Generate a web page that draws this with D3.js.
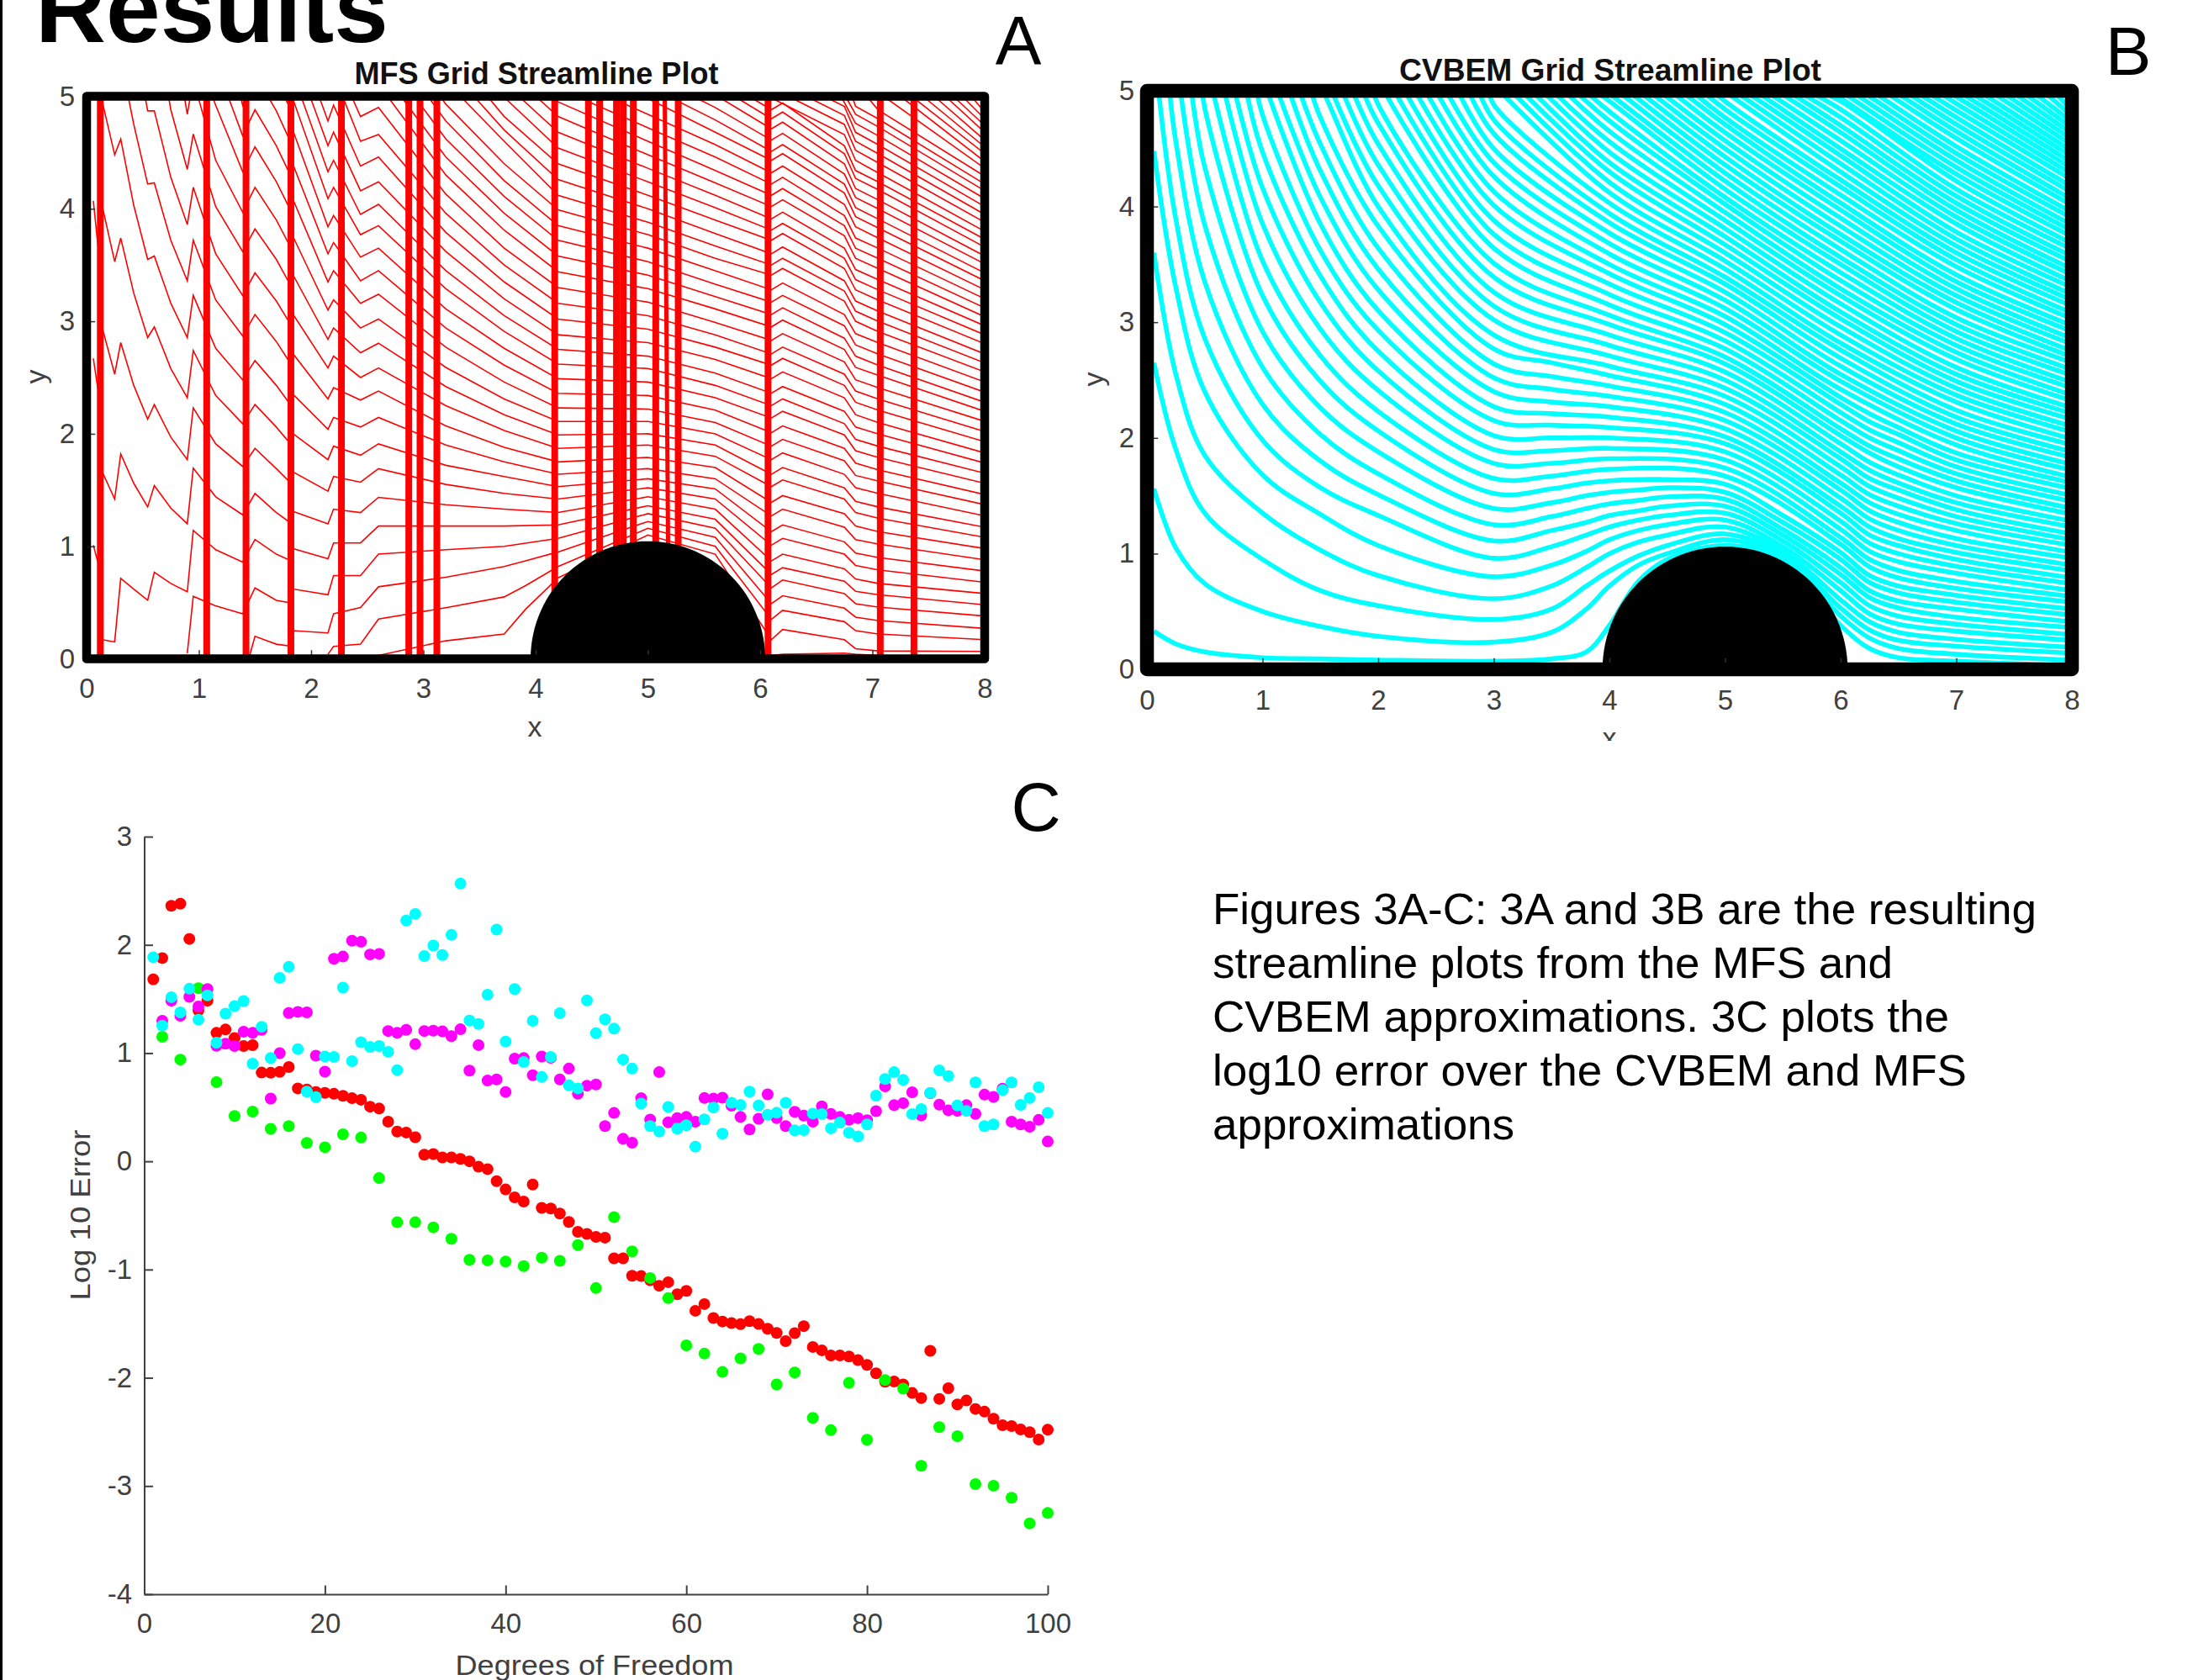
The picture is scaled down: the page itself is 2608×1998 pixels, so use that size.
<!DOCTYPE html>
<html><head><meta charset="utf-8">
<script src="https://cdn.jsdelivr.net/npm/d3@7"></script>
<style>html,body{margin:0;padding:0;background:#fff}svg{display:block}text{font-family:"Liberation Sans",Arial,sans-serif}</style>
</head><body><div id="c"></div>
<script>
// ---------- Panel C: log10 error per degree of freedom ----------
const redValues=[1.681,1.878,2.361,2.38,2.055,1.395,1.484,1.187,1.218,1.14,1.065,1.073,.82,.818,.827,.871,.674,.663,.64,.632,.624,.605,.583,.569,.505,.488,.366,.275,.266,.222,.061,.067,.036,.036,.022,0,-.05,-.072,-.183,-.26,-.333,-.372,-.214,-.43,-.436,-.483,-.56,-.652,-.671,-.699,-.705,-.896,-.896,-1.057,-1.06,-1.098,-1.15,-1.117,-1.228,-1.197,-1.381,-1.319,-1.448,-1.48,-1.495,-1.505,-1.477,-1.503,-1.547,-1.586,-1.661,-1.588,-1.523,-1.715,-1.746,-1.793,-1.793,-1.803,-1.837,-1.881,-1.959,-2.036,-2.034,-2.062,-2.14,-2.187,-1.751,-2.195,-2.096,-2.246,-2.21,-2.288,-2.313,-2.378,-2.438,-2.446,-2.477,-2.503,-2.57,-2.48];
const greenValues=[1.151,.94,1.6,.732,.419,.46,.3,.325,.17,.13,.25,.22,-.155,-.563,-.563,-.61,-.716,-.91,-.915,-.926,-.968,-.89,-.92,-.774,-1.171,-.516,-.832,-1.078,-1.264,-1.7,-1.777,-1.946,-1.821,-1.733,-2.062,-1.951,-2.37,-2.484,-2.047,-2.573,-2.021,-2.1,-2.813,-2.456,-2.539,-2.982,-2.997,-3.109,-3.345,-3.249];
const magentaValues=[1.298,1.484,1.345,1.52,1.431,1.592,1.068,1.087,1.065,1.198,1.187,1.215,.58,.999,1.37,1.381,1.376,.976,.829,1.872,1.892,2.039,2.028,1.911,1.917,1.204,1.187,1.215,1.082,1.204,1.207,1.201,1.157,1.22,.838,1.074,.746,.757,.641,.949,.954,.796,.968,.957,.757,.857,.624,.699,.71,.325,.447,.208,.172,.583,.386,.824,.36,.399,.41,.366,.585,.58,.588,.513,.41,.294,.394,.619,.399,.325,.458,.422,.366,.508,.438,.41,.383,.399,.38,.463,.693,.519,.538,.638,.424,.63,.524,.472,.466,.519,.438,.616,.596,.671,.366,.341,.319,.383,.183];
const cyanValues=[1.886,1.254,1.517,1.376,1.595,1.309,1.534,1.096,1.365,1.434,1.481,.902,1.243,.954,1.695,1.797,1.037,.644,.594,.968,.965,1.606,.926,1.101,1.057,1.065,1.012,.843,2.225,2.286,1.897,1.994,1.906,2.092,2.566,1.301,1.27,1.54,2.141,1.107,1.592,.918,1.298,.779,.965,1.368,.702,.674,1.487,1.184,1.312,1.226,.94,.857,.533,.325,.275,.502,.302,.333,.136,.388,.497,.255,.541,.521,.644,.516,.43,.449,.541,.286,.288,.441,.436,.305,.358,.264,.23,.341,.607,.76,.824,.752,.436,.483,.632,.84,.788,.516,.466,.73,.325,.341,.657,.73,.521,.585,.685,.447];
const errXTicks=[0,20,40,60,80,100], errYTicks=[-4,-3,-2,-1,0,1,2,3];

// ---------- Panel B: CVBEM streamlines, crossing heights read at vertical slices (index = line, bottom up) ----------
const bAt006=[.33,1.56,2.65,3.6,4.48];
const bAt025=[.22,1.05,1.9,2.55,3.3,3.89,4.56];
const bAt05=[.15,.74,1.35,1.85,2.4,2.86,3.35,3.84,4.34,4.85];
const bAt1=[.1,.5,.95,1.35,1.68,1.98,2.29,2.61,2.92,3.23,3.53,3.85,4.16,4.47,4.79];
const bAt15=[.09,.37,.68,1.03,1.34,1.57,1.8,2.03,2.26,2.49,2.71,2.94,3.17,3.4,3.62,3.85,4.08,4.31,4.54,4.77,4.98];
const bAt2=[.08,.285,.55,.81,1.07,1.33,1.51,1.69,1.88,2.06,2.23,2.41,2.58,2.75,2.93,3.1,3.28,3.46,3.64,3.83,4,4.18,4.36,4.54,4.72,4.88];
const bAt3=[.07,.235,.43,.61,.8,.96,1.11,1.25,1.39,1.52,1.65,1.78,1.9,2.02,2.15,2.27,2.4,2.52,2.64,2.77,2.89,3.02,3.14,3.26,3.39,3.51,3.64,3.76,3.88,4.01,4.13,4.26,4.38,4.5,4.63,4.75,4.88];
const bAt35=[.09,.32,.52,.72,.9,1.06,1.2,1.32,1.44,1.56,1.67,1.78,1.89,2,2.11,2.21,2.31,2.42,2.53,2.65];
const bAt38=[.15,.52,.72,.88,1.02,1.16,1.27,1.39,1.5,1.61];
const bAt4=[.38,.72,.85,1,1.12,1.23,1.33,1.43,1.53,1.63,1.73,1.82,1.91,2,2.09,2.18,2.27,2.36,2.45,2.54,2.62,2.71,2.8,2.89,2.98,3.06,3.15,3.24,3.33,3.42,3.5,3.59,3.68,3.77,3.86,3.94,4.03,4.12,4.21,4.3,4.38,4.47,4.56,4.65,4.74,4.82,4.91];
const bAt425=[.76,.9,.98,1.1,1.2,1.29,1.37,1.46,1.55,1.64];
const bAt45=[.95,1,1.07,1.16,1.25,1.33,1.41,1.49,1.57,1.64];
const bAt5=[1.07,1.12,1.17,1.23,1.29,1.35,1.41,1.47,1.53,1.6,1.67,1.74,1.81,1.88,1.95,2.01,2.08,2.15,2.22,2.29,2.36,2.43,2.5,2.57,2.64,2.7,2.77,2.84,2.91,2.98,3.05,3.12,3.19,3.26,3.33,3.39,3.46,3.53,3.6,3.67,3.74,3.81,3.88,3.95,4.02,4.08,4.15,4.22,4.29,4.36,4.43,4.5,4.57,4.64,4.71,4.77,4.84,4.91];
const bAt55=[.94,.96,.99,1.02,1.06,1.11,1.16,1.21,1.27,1.33];
const bAt6=[.38,.46,.53,.6,.68,.75,.82,.88,.95,1.01,1.08,1.14,1.21,1.28,1.35,1.41,1.48,1.55,1.61,1.68,1.75,1.82,1.88,1.95,2.02,2.08,2.15,2.22,2.29,2.35,2.42,2.49,2.55,2.62,2.69,2.76,2.82,2.89,2.96,3.03,3.09,3.16,3.23,3.29,3.36,3.43,3.5,3.56,3.63,3.7,3.76,3.83,3.9,3.97,4.03,4.1,4.17,4.23,4.3,4.37,4.44,4.5,4.57,4.64,4.7,4.77,4.84,4.91];
const bAt625=[.18,.27,.34,.41,.48,.55,.62,.68,.75,.81,.885,.95,1.02,1.09,1.16,1.23,1.3,1.37,1.44,1.51,1.58,1.65,1.72,1.79,1.87,1.93,2,2.07,2.14,2.21];
const bAt65=[.1,.18,.25,.32,.39,.46,.53,.59,.66,.72,.79,.854,.93,1,1.07,1.13,1.2,1.27,1.34,1.41,1.48,1.55,1.61,1.68,1.75,1.82,1.89,1.96,2.03,2.09];
const bAt7=[.07,.13,.2,.26,.33,.39,.45,.52,.58,.64,.7,.76,.83,.89,.95,1.01,1.07,1.13,1.2,1.26,1.32,1.38,1.44,1.5,1.57,1.63,1.69,1.75,1.81,1.87,1.94,2,2.06,2.12,2.18,2.24,2.31,2.37,2.43,2.49,2.55,2.61,2.68,2.74,2.8,2.86,2.92,2.98,3.04,3.11,3.17,3.23,3.29,3.35,3.41,3.48,3.54,3.6,3.66,3.72,3.78,3.85,3.91,3.97,4.03,4.09,4.15,4.22,4.28,4.34,4.4,4.46,4.52,4.59,4.65,4.71,4.77,4.83,4.89];
const bAt8=[.03,.08,.14,.19,.25,.3,.36,.41,.47,.52,.58,.63,.68,.74,.79,.85,.9,.96,1.01,1.07,1.12,1.17,1.23,1.28,1.34,1.39,1.45,1.5,1.56,1.61,1.66,1.72,1.77,1.83,1.88,1.94,1.99,2.05,2.1,2.16,2.21,2.26,2.32,2.37,2.43,2.48,2.54,2.59,2.65,2.7,2.75,2.81,2.86,2.92,2.97,3.03,3.08,3.14,3.19,3.24,3.3,3.35,3.41,3.46,3.52,3.57,3.63,3.68,3.74,3.79,3.84,3.9,3.95,4.01,4.06,4.12,4.17,4.23,4.28,4.33,4.38,4.43,4.48,4.53,4.58,4.63,4.68,4.73,4.78,4.83,4.88];
// where lines 6..91 leave through the top edge
const bTopX=[.1,.195,.29,.385,.48,.57,.67,.76,.86,.95,1.04,1.13,1.23,1.32,1.42,1.51,1.6,1.69,1.78,1.87,1.96,2.05,2.14,2.23,2.32,2.41,2.5,2.59,2.69,2.78,2.87,2.96,3.05,3.15,3.24,3.33,3.42,3.51,3.61,3.7,3.79,3.88,3.97,4.07,4.16,4.25,4.34,4.43,4.53,4.62,4.71,4.8,4.89,4.99,5.08,5.17,5.26,5.35,5.45,5.54,5.63,5.72,5.81,5.91,6,6.09,6.18,6.27,6.37,6.46,6.55,6.64,6.73,6.83,6.92,7.01,7.1,7.19,7.29,7.38,7.47,7.56,7.65,7.75,7.84,7.93];
const bSlices=[[.06,bAt006],[.25,bAt025],[.5,bAt05],[1,bAt1],[1.5,bAt15],[2,bAt2],[3,bAt3],[3.5,bAt35],[3.8,bAt38],[4,bAt4],[4.25,bAt425],[4.5,bAt45],[5,bAt5],[5.5,bAt55],[6,bAt6],[6.25,bAt625],[6.5,bAt65],[7,bAt7],[8,bAt8]];

// ---------- Panel A: MFS streamlines, same scheme (null = line not present at that slice) ----------
const n=null;
const aAt006=[n,n,n,n,n,n,1.01,2.67,4.07];
const aAt010=[n,n,n,n,n,n,.86,2.4,3.68];
const aAt014=[n,n,n,n,n,.17,1.66,2.94,4.02,4.95];
const aAt025=[n,n,n,n,n,.15,1.42,2.53,3.53,4.48];
const aAt0304=[n,n,n,n,n,.715,1.82,2.81,3.74,4.62];
const aAt042=[n,n,n,n,n,.62,1.56,2.43,3.25,4.03,4.75];
const aAt0544=[n,n,n,n,n,.52,1.35,2.13,2.855,3.55,4.22,4.87];
const aAt0603=[n,n,n,n,n,.77,1.54,2.26,2.95,3.58,4.23,4.87];
const aAt075=[n,n,n,n,n,.67,1.34,1.97,2.58,3.16,3.72,4.28,4.88];
const aAt0897=[n,n,n,n,.05,.596,1.2,1.77,2.32,2.855,3.36,3.86,4.35,4.84];
const aAt095=[n,n,n,n,.555,1.14,1.695,2.23,2.74,3.23,3.72,4.19,4.664,5.15];
const aAt115=[n,n,n,n,.47,.97,1.44,1.91,2.34,2.76,3.19,3.6,4.02,4.43,4.92];
const aAt139=[n,n,n,n,.4,.86,1.28,1.71,2.09,2.48,2.87,3.23,3.62,3.97,4.33,4.65,4.92];
const aAt145=[n,n,n,.02];
const aAt15=[n,n,n,.2,.63,1.06,1.47,1.87,2.26,2.65,3.06,3.43,3.82,4.19,4.55,4.88,5.2];
const aAt169=[n,n,n,.13,.52,.93,1.3,1.69,2.06,2.43,2.82,3.18,3.55,3.9,4.24,4.56,4.87];
const aAt18=[n,n,n,.115,.5,.88,1.22,1.58,1.93,2.28,2.65,3,3.35,3.69,4.02,4.33,4.63,4.92];
const aAt184=[n,n,n,.25,.62,.98,1.31,1.66,2,2.35,2.71,3.06,3.41,3.75,4.08,4.39,4.69,4.97];
const aAt215=[n,n,.04,.23,.57,.89,1.2,1.49,1.77,2.04,2.31,2.585,2.84,3.1,3.35,3.6,3.84,4.09,4.33,4.56,4.78];
const aAt22=[n,n,.11,.4,.74,1.03,1.33,1.62,1.89,2.145,2.41,2.69,2.94,3.19,3.45,3.7,3.94,4.19,4.43,4.68,4.92];
const aAt244=[n,n,.13,.455,.74,1.03,1.3,1.57,1.81,2.06,2.3,2.5,2.72,2.94,3.16,3.36,3.57,3.77,3.95,4.16,4.38,4.6,4.82];
const aAt26=[n,.03,.353,.64,.93,1.18,1.435,1.69,1.91,2.145,2.38,2.585,2.805,3.02,3.24,3.45,3.65,3.85,4.04,4.24,4.46,4.66,4.9];
const aAt32=[n,.16,.454,.725,.97,1.18,1.37,1.55,1.72,1.9,2.07,2.25,2.42,2.59,2.77,2.94,3.11,3.29,3.45,3.62,3.79,3.96,4.13,4.3,4.46,4.62,4.78,4.93];
const aAt372=[n,.22,.55,.82,1,1.18,1.33,1.47,1.62,1.75,1.88,2.03,2.17,2.31,2.46,2.61,2.76,2.91,3.05,3.2,3.35,3.5,3.65,3.81,3.96,4.11,4.25,4.4,4.6,4.7,4.82];
const aAt391=[n,.44,.65,.87];
const aAt42=[n,.72,.82,.95,1.07,1.19,1.3,1.42,1.53,1.64,1.75,1.87,1.99,2.11,2.23,2.36,2.49,2.62,2.75,2.88,3.02,3.16,3.3,3.44,3.58,3.72,3.85,3.99,4.12,4.26,4.4,4.54,4.68,4.82,4.95];
const aAt5=[n,1.1,1.16,1.22,1.29,1.36,1.44,1.52,1.6,1.69,1.79,1.9,2,2.11,2.22,2.34,2.46,2.58,2.69,2.81,2.93,3.05,3.17,3.29,3.41,3.53,3.65,3.77,3.88,4,4.12,4.24,4.36,4.48,4.6,4.72,4.84];
const aAt56=[n,.93,1,1.08,1.16,1.24,1.33,1.42,1.51,1.6,1.7,1.8,1.9,2,2.1,2.21,2.32,2.43,2.54,2.66,2.77,2.88,2.99,3.11,3.22,3.33,3.45,3.56,3.67,3.78,3.9,4.01,4.12,4.23,4.34,4.46,4.57,4.68,4.79,4.9];
const aAt61=[.03,.17,.35,.49,.63,.75,.87,1.01,1.13,1.27,1.39,1.53,1.64,1.77,1.89,2.01,2.14,2.25,2.36,2.49,2.61,2.71,2.83,2.95,3.06,3.17,3.28,3.41,3.5,3.6,3.72,3.81,3.91,4.02,4.12,4.22,4.32,4.43,4.51,4.61,4.71,4.8,4.88];
const aAt62=[.04,.26,.43,.56,.7,.81,.93,1.07,1.19,1.33,1.45,1.59,1.7,1.83,1.95,2.07,2.2,2.31,2.42,2.55,2.67,2.77,2.89,3.01,3.12,3.23,3.34,3.47,3.56,3.66,3.78,3.87,3.97,4.08,4.18,4.28,4.38,4.49,4.57,4.67,4.77,4.86,4.94];
const aAt675=[.05,.17,.33,.45,.58,.69,.8,.93,1.04,1.17,1.29,1.42,1.52,1.64,1.76,1.87,1.99,2.09,2.2,2.32,2.43,2.53,2.64,2.75,2.85,2.96,3.06,3.18,3.27,3.36,3.47,3.56,3.65,3.76,3.85,3.94,4.04,4.14,4.22,4.31,4.4,4.49,4.56,4.66,4.75,4.83,4.91];
const aAt685=[.04,.09,.25,.37,.49,.6,.71,.83,.94,1.06,1.18,1.3,1.4,1.52,1.63,1.74,1.85,1.95,2.06,2.17,2.28,2.38,2.48,2.59,2.69,2.79,2.89,3,3.09,3.18,3.28,3.37,3.46,3.56,3.65,3.74,3.84,3.93,4.01,4.1,4.18,4.27,4.34,4.43,4.52,4.6,4.68,4.76,4.84,4.91];
const aAt705=[.03,.07,.22,.34,.46,.57,.67,.79,.9,1.02,1.13,1.25,1.35,1.47,1.58,1.68,1.79,1.89,2,2.1,2.21,2.31,2.41,2.52,2.61,2.71,2.81,2.91,3,3.09,3.19,3.28,3.37,3.47,3.56,3.65,3.74,3.83,3.91,4,4.08,4.17,4.24,4.32,4.41,4.49,4.57,4.65,4.73,4.8,4.88];
const aAt8=[.02,.065,.17,.27,.38,.48,.58,.68,.78,.88,.98,1.08,1.17,1.27,1.37,1.46,1.56,1.65,1.74,1.83,1.93,2.02,2.11,2.2,2.28,2.37,2.46,2.55,2.63,2.71,2.8,2.88,2.96,3.04,3.12,3.2,3.28,3.36,3.43,3.51,3.58,3.66,3.73,3.8,3.88,3.95,4.02,4.09,4.16,4.22,4.29,4.36,4.42,4.49,4.55,4.61,4.68,4.74,4.8,4.86,4.92];
// where lines 11..61 leave through the top edge
const aTopX=[.37,.52,.73,.87,1.12,1.26,1.37,1.76,1.91,1.99,2.07,2.28,2.36,2.68,2.8,2.92,3.04,3.15,3.33,3.45,3.57,3.71,3.85,4,4.15,4.36,4.64,4.96,5.18,5.4,5.62,5.77,5.9,6.07,6.25,6.41,6.57,6.72,6.76,6.82,6.95,7.1,7.25,7.35,7.45,7.55,7.65,7.72,7.8,7.88,7.95];
const aSlices=[[.06,aAt006],[.1,aAt010],[.14,aAt014],[.25,aAt025],[.304,aAt0304],[.42,aAt042],[.544,aAt0544],[.603,aAt0603],[.75,aAt075],[.897,aAt0897],[.95,aAt095],[1.15,aAt115],[1.39,aAt139],[1.45,aAt145],[1.5,aAt15],[1.69,aAt169],[1.8,aAt18],[1.84,aAt184],[2.15,aAt215],[2.2,aAt22],[2.44,aAt244],[2.6,aAt26],[3.2,aAt32],[3.72,aAt372],[3.91,aAt391],[4.2,aAt42],[5,aAt5],[5.6,aAt56],[6.1,aAt61],[6.2,aAt62],[6.75,aAt675],[6.85,aAt685],[7.05,aAt705],[8,aAt8]];
const aThick=[.122,1.07,1.42,1.82,2.27,2.87,2.97,3.12,4.17,4.47,4.57,4.72,4.78,4.87,5.07,5.27,6.07,7.07,7.37];
const aSlant=[[5.15,5],[5.18,1]];

const gridXTicks=[0,1,2,3,4,5,6,7,8], gridYTicks=[0,1,2,3,4,5];
const caption=["Figures 3A-C: 3A and 3B are the resulting","streamline plots from the MFS and","CVBEM approximations. 3C plots the","log10 error over the CVBEM and MFS","approximations"];
const captionWidths=[980,809,876,897,359];
const INK="#404040";
const TICK_FONT=33;

const svg=d3.select("#c").append("svg").attr("width",2608).attr("height",1998).attr("viewBox","0 0 2608 1998");
svg.append("rect").attr("width",2608).attr("height",1998).attr("fill","#fff");
svg.append("rect").attr("x",0).attr("y",0).attr("width",3).attr("height",1998).attr("fill","#000");
svg.append("text").attr("x",42).attr("y",50).attr("font-size",115).attr("font-weight","bold").attr("fill","#000").attr("textLength",420).attr("lengthAdjust","spacingAndGlyphs").text("Results");

function buildLines(slices,topX,firstTop){
  const count=d3.max(slices,s=>s[1].length);
  const lines=[];
  for(let k=0;k<Math.max(count,firstTop+topX.length);k++){
    const pts=[];
    slices.forEach(([x,col])=>{const v=col[k]; if(v!==undefined&&v!==null) pts.push([x,v]);});
    if(k>=firstTop&&k-firstTop<topX.length) pts.push([topX[k-firstTop],5]);
    pts.sort((a,b)=>a[0]-b[0]);
    if(pts.length>1) lines.push(pts);
  }
  return lines;
}

function gridPanel(o){
  const x=d3.scaleLinear().domain([0,8]).range(o.xr), y=d3.scaleLinear().domain([0,5]).range(o.yr);
  const id="clip"+o.id;
  svg.append("clipPath").attr("id",id).append("rect").attr("x",o.xr[0]).attr("y",o.yr[1]).attr("width",o.xr[1]-o.xr[0]).attr("height",o.yr[0]-o.yr[1]);
  const g=svg.append("g");
  const plot=g.append("g").attr("clip-path",`url(#${id})`);
  const line=d3.line().x(d=>x(d[0])).y(d=>y(d[1])).curve(o.curve);
  plot.selectAll("path.s").data(buildLines(o.slices,o.topX,o.firstTop)).join("path").attr("class","s").attr("d",line).attr("fill","none").attr("stroke",o.color).attr("stroke-width",o.lw);
  if(o.thick){
    plot.selectAll("line.t").data(o.thick).join("line").attr("class","t").attr("x1",d=>x(d)).attr("x2",d=>x(d)).attr("y1",y(0)).attr("y2",y(5)).attr("stroke",o.color).attr("stroke-width",8);
    plot.append("path").attr("d",d3.line().x(d=>x(d[0])).y(d=>y(d[1]))(aSlant)).attr("fill","none").attr("stroke",o.color).attr("stroke-width",5);
  }
  // semicircular obstacle
  const hump=d3.range(0,181,3).map(a=>[5+o.R*Math.cos(a*Math.PI/180),o.R*Math.sin(a*Math.PI/180)]);
  plot.append("path").attr("d",d3.line().x(d=>x(d[0])).y(d=>y(d[1]))(hump)+"Z").attr("fill","#000");
  const ax=d3.axisBottom(x).tickValues(gridXTicks).tickSize(-o.bw/2-5).tickPadding(o.xpad).tickFormat(d3.format("d"));
  const ay=d3.axisLeft(y).tickValues(gridYTicks).tickSize(-o.bw/2-5).tickPadding(o.ypad).tickFormat(d3.format("d"));
  [g.append("g").attr("transform",`translate(0,${y(0)})`).call(ax),g.append("g").attr("transform",`translate(${x(0)},0)`).call(ay)].forEach(a=>{
    a.select(".domain").remove();
    a.selectAll("line").attr("stroke","#333").attr("stroke-width",1.5);
    a.selectAll("text").attr("font-size",TICK_FONT).attr("fill",INK).attr("font-family",'"Liberation Sans"');
  });
  g.append("rect").attr("x",x(0)).attr("y",y(5)).attr("width",x(8)-x(0)).attr("height",y(0)-y(5)).attr("fill","none").attr("stroke","#000").attr("stroke-width",o.bw).attr("stroke-linejoin","round");
  g.append("text").attr("x",o.title[1]).attr("y",o.title[2]).attr("text-anchor","middle").attr("font-size",36).attr("font-weight","bold").attr("fill","#111").attr("textLength",o.title[3]).attr("lengthAdjust","spacingAndGlyphs").text(o.title[0]);
  g.append("text").attr("transform",`translate(${o.ylab[0]},${o.ylab[1]}) rotate(-90)`).attr("text-anchor","middle").attr("font-size",34).attr("fill",INK).text("y");
  if(o.xclip){
    svg.append("clipPath").attr("id",id+"x").append("rect").attr("x",o.xlab[0]-40).attr("y",o.xlab[1]-40).attr("width",80).attr("height",40+o.xclip-o.xlab[1]);
  }
  const xt=g.append("text").attr("x",o.xlab[0]).attr("y",o.xlab[1]).attr("text-anchor","middle").attr("font-size",34).attr("fill",INK).text("x");
  if(o.xclip) xt.attr("clip-path",`url(#${id}x)`);
}

gridPanel({id:"A",xr:[103,1171],yr:[783.5,114.5],R:1.045,color:"#ff0000",lw:1.6,slices:aSlices,topX:aTopX,firstTop:10,thick:aThick,curve:d3.curveLinear,bw:10.5,xpad:23,ypad:14,title:["MFS Grid Streamline Plot",638,100,433],ylab:[54,448],xlab:[636,876]});
gridPanel({id:"B",xr:[1364,2464],yr:[796,108],R:1.06,color:"#00ffff",lw:5.6,slices:bSlices,topX:bTopX,firstTop:5,thick:null,curve:d3.curveCatmullRom.alpha(0.5),bw:16.5,xpad:24.6,ypad:15,title:["CVBEM Grid Streamline Plot",1915,96,502],ylab:[1312,451],xlab:[1914,889],xclip:881});

// Panel letters
[["A",1211,76],["B",2531,89],["C",1232,988]].forEach(([t,xx,yy])=>svg.append("text").attr("x",xx).attr("y",yy).attr("text-anchor","middle").attr("font-size",82).attr("fill","#000").text(t));

// Panel C
const ex=d3.scaleLinear().domain([0,100]).range([171.5,1246]);
const ey=d3.scaleLinear().domain([-4,3]).range([1896,995]);
const gc=svg.append("g");
const axb=d3.axisBottom(ex).tickValues(errXTicks).tickSize(-10.5).tickPadding(22.6).tickSizeOuter(0).tickFormat(String);
const axl=d3.axisLeft(ey).tickValues(errYTicks).tickSize(-10.5).tickPadding(14.5).tickSizeOuter(0).tickFormat(String);
[gc.append("g").attr("transform",`translate(0,${ey(-4)})`).call(axb),gc.append("g").attr("transform",`translate(${ex(0)},0)`).call(axl)].forEach(a=>{
  a.select(".domain").attr("stroke",INK).attr("stroke-width",2);
  a.selectAll("line").attr("stroke",INK).attr("stroke-width",2);
  a.selectAll("text").attr("font-size",TICK_FONT).attr("fill",INK).attr("font-family",'"Liberation Sans"');
});
gc.append("text").attr("transform",`translate(107,1445) rotate(-90)`).attr("text-anchor","middle").attr("font-size",33).attr("fill",INK).attr("textLength",203).attr("lengthAdjust","spacingAndGlyphs").text("Log 10 Error");
gc.append("text").attr("x",707).attr("y",1992).attr("text-anchor","middle").attr("font-size",33).attr("fill",INK).attr("textLength",331).attr("lengthAdjust","spacingAndGlyphs").text("Degrees of Freedom");
const dots=(vals,start,step,col)=>gc.append("g").selectAll("circle").data(vals).join("circle").attr("cx",(d,i)=>ex(start+i*step)).attr("cy",d=>ey(d)).attr("r",7).attr("fill",col);
dots(redValues,1,1,"#ff0000");
dots(greenValues,2,2,"#00ff00");
dots(magentaValues,2,1,"#ff00ff");
dots(cyanValues,1,1,"#00ffff");

// Caption
svg.append("g").selectAll("text").data(caption).join("text").attr("x",1442).attr("y",(d,i)=>1099+i*64).attr("font-size",52).attr("fill","#000").attr("textLength",(d,i)=>captionWidths[i]).attr("lengthAdjust","spacingAndGlyphs").text(d=>d);
</script></body></html>
